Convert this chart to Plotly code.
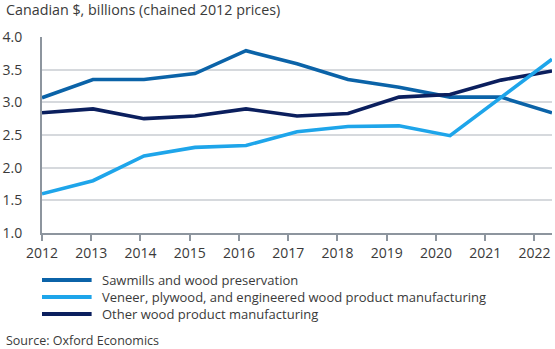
import plotly.graph_objects as go

# Real wood-product GDP by sub-industry, Canadian $ billions (chained 2012 prices)
years = [2012, 2013, 2014, 2015, 2016, 2017, 2018, 2019, 2020, 2021, 2022]
series_names = [
    "Sawmills and wood preservation",
    "Veneer, plywood, and engineered wood product manufacturing",
    "Other wood product manufacturing",
]
sawmills = [3.07, 3.35, 3.35, 3.44, 3.79, 3.59, 3.35, 3.23, 3.08, 3.08, 2.84]
veneer = [1.60, 1.80, 2.18, 2.31, 2.34, 2.55, 2.63, 2.64, 2.49, 3.08, 3.66]
other = [2.84, 2.90, 2.75, 2.79, 2.90, 2.79, 2.83, 3.08, 3.12, 3.34, 3.48]
y_ticks = [1.0, 1.5, 2.0, 2.5, 3.0, 3.5, 4.0]

colors = ["#0b63a8", "#1ea5ea", "#0b1f5e"]
values = [sawmills, veneer, other]

W, H = 555, 349
M_L, M_R, M_T, M_B = 38, 3, 37, 116
plot_w = W - M_L - M_R
plot_h = H - M_T - M_B

FONT = "Open Sans"
TEXT = "#3a3a3a"
AXIS = "#8d959e"
GRID = "#d6d9dd"

fig = go.Figure()

# draw order: sawmills, other, then veneer on top
for idx in [0, 2, 1]:
    fig.add_trace(go.Scatter(
        x=years, y=values[idx], name=series_names[idx], mode="lines",
        line=dict(color=colors[idx], width=3.6),
        xaxis="x", yaxis="y", showlegend=False,
        hoverinfo="skip",
    ))

# year labels sit on a slightly compressed scale relative to the data
tick_span_px = 496.3
x2_max = years[0] + (years[-1] - years[0]) * plot_w / tick_span_px


def px_to_paper_x(px):
    return (px - M_L) / plot_w


def px_to_paper_y(py):
    return (H - M_B - py) / plot_h


annotations = [
    dict(text="Canadian $, billions (chained 2012 prices)", xref="paper", yref="paper",
         x=px_to_paper_x(0), y=px_to_paper_y(9), xanchor="left", yanchor="middle",
         showarrow=False, font=dict(family=FONT, size=14.3, color=TEXT)),
    dict(text="Source: Oxford Economics", xref="paper", yref="paper",
         x=px_to_paper_x(0), y=px_to_paper_y(340), xanchor="left", yanchor="middle",
         showarrow=False, font=dict(family=FONT, size=12.5, color=TEXT)),
]

shapes = []
legend_rows = [280, 297, 314]
for name, color, row in zip(series_names, colors, legend_rows):
    shapes.append(dict(
        type="line", xref="paper", yref="paper",
        x0=px_to_paper_x(38), x1=px_to_paper_x(88),
        y0=px_to_paper_y(row), y1=px_to_paper_y(row),
        line=dict(color=color, width=4),
    ))
    annotations.append(dict(
        text=name, xref="paper", yref="paper",
        x=px_to_paper_x(96), y=px_to_paper_y(row), xanchor="left", yanchor="middle",
        showarrow=False, font=dict(family=FONT, size=13, color=TEXT),
    ))

fig.update_layout(
    width=W, height=H,
    margin=dict(l=M_L, r=M_R, t=M_T, b=M_B, pad=0),
    paper_bgcolor="white", plot_bgcolor="white",
    font=dict(family=FONT, size=13, color=TEXT),
    xaxis=dict(range=[years[0], years[-1]], visible=False, fixedrange=True),
    xaxis2=dict(
        range=[years[0], x2_max], overlaying="x", anchor="y", side="bottom",
        tickvals=years, ticktext=[str(y) for y in years],
        showgrid=False, zeroline=False,
        showline=True, linecolor=AXIS, linewidth=2,
        ticks="outside", ticklen=6, tickwidth=1.5, tickcolor=AXIS,
        tickfont=dict(family=FONT, size=14, color=TEXT),
    ),
    yaxis=dict(
        range=[1.0, 4.0], tickvals=y_ticks, ticktext=[f"{v:.1f}" for v in y_ticks],
        showgrid=True, gridcolor=GRID, gridwidth=1.5, zeroline=False,
        showline=True, linecolor=AXIS, linewidth=2,
        ticks="", ticklabelstandoff=15,
        tickfont=dict(family=FONT, size=14, color=TEXT),
    ),
    annotations=annotations,
    shapes=shapes,
)

# keep an (empty) trace on xaxis2 so its tick labels render
fig.add_trace(go.Scatter(x=[years[0]], y=[None], xaxis="x2", yaxis="y",
                         showlegend=False, hoverinfo="skip"))

fig.write_html("out.html")
